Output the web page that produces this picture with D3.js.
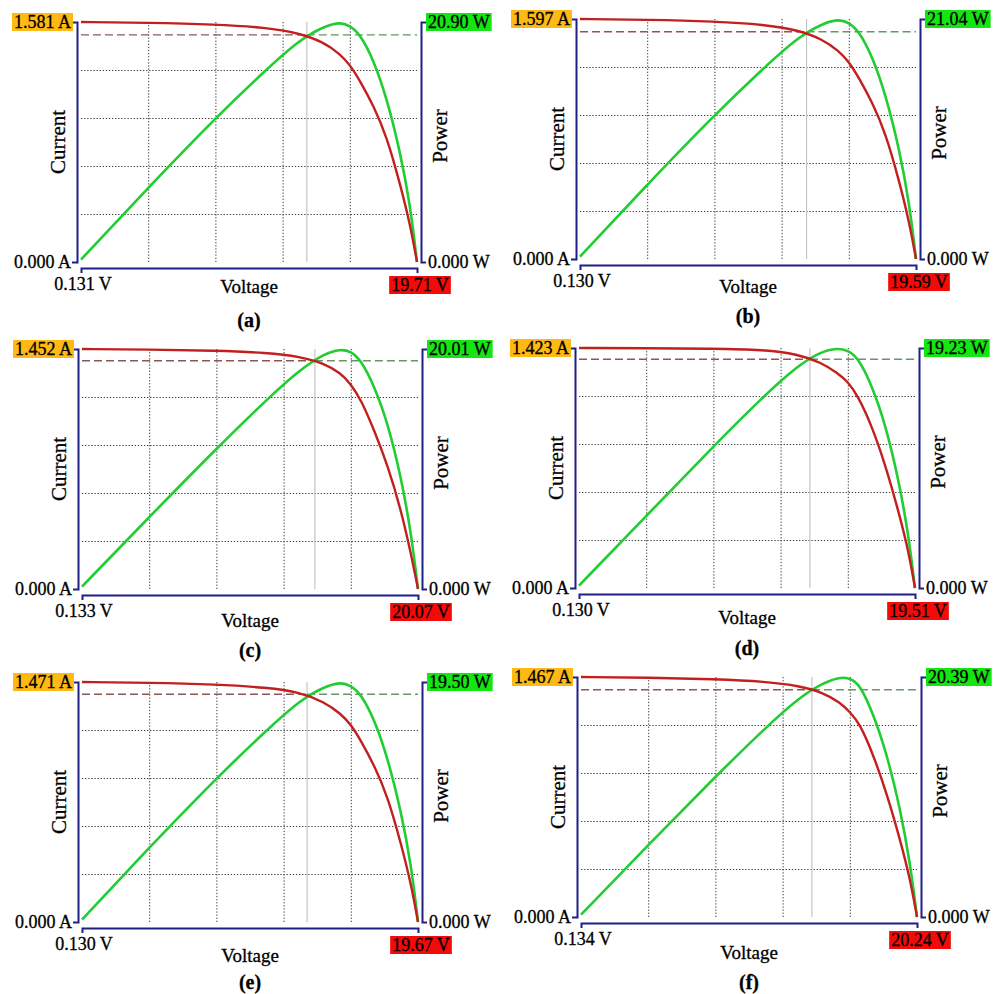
<!DOCTYPE html>
<html>
<head>
<meta charset="utf-8">
<script src="https://cdn.jsdelivr.net/npm/d3@7"></script>
<style>
  body { margin: 0; background: #fff; }
  svg { display: block; font-family: "Liberation Serif", "Times New Roman", serif; }
  svg text { stroke: #000; stroke-width: 0.3px; }
</style>
</head>
<body>
<div id="main"></div>
<script>
const width = 994;
const height = 994;

// chart data
const panelNames = ["(a)", "(b)", "(c)", "(d)", "(e)", "(f)"];
const startVolts = [0.131, 0.130, 0.133, 0.130, 0.130, 0.134];
const openVolts = [19.71, 19.59, 20.07, 19.51, 19.67, 20.24];
const maxAmps = [1.581, 1.597, 1.452, 1.423, 1.471, 1.467];
const maxWatts = [20.90, 21.04, 20.01, 19.23, 19.50, 20.39];
const mppVolts = [13.29, 13.25, 13.95, 13.45, 13.22, 13.95];
const mppAmps = [1.496, 1.512, 1.381, 1.356, 1.396, 1.389];

const volts = [
  [0.131, 4.05, 7.96, 10.90, 12.86, 14.23, 15.21, 15.79, 16.38, 17.17, 17.95, 18.73, 19.32, 19.71],
  [0.130, 4.02, 7.91, 10.83, 12.78, 14.14, 15.11, 15.70, 16.28, 17.06, 17.84, 18.62, 19.20, 19.59],
  [0.133, 4.12, 8.11, 11.10, 13.09, 14.49, 15.48, 16.08, 16.68, 17.48, 18.28, 19.07, 19.67, 20.07],
  [0.130, 4.01, 7.88, 10.79, 12.73, 14.08, 15.05, 15.63, 16.22, 16.99, 17.77, 18.54, 19.12, 19.51],
  [0.130, 4.04, 7.95, 10.88, 12.83, 14.20, 15.18, 15.76, 16.35, 17.13, 17.91, 18.69, 19.28, 19.67],
  [0.134, 4.16, 8.18, 11.19, 13.20, 14.61, 15.62, 16.22, 16.82, 17.63, 18.43, 19.24, 19.84, 20.24],
];
const amps = [
  [1.581, 1.576, 1.565, 1.545, 1.507, 1.450, 1.372, 1.301, 1.195, 1.031, 0.827, 0.512, 0.243, 0],
  [1.597, 1.592, 1.581, 1.560, 1.522, 1.464, 1.386, 1.314, 1.207, 1.041, 0.835, 0.517, 0.246, 0],
  [1.452, 1.449, 1.442, 1.430, 1.406, 1.365, 1.307, 1.241, 1.147, 0.958, 0.745, 0.475, 0.206, 0],
  [1.423, 1.422, 1.419, 1.413, 1.387, 1.338, 1.274, 1.224, 1.138, 0.968, 0.740, 0.462, 0.228, 0],
  [1.471, 1.467, 1.456, 1.437, 1.408, 1.349, 1.277, 1.211, 1.112, 0.959, 0.769, 0.477, 0.227, 0],
  [1.467, 1.463, 1.454, 1.439, 1.413, 1.372, 1.313, 1.254, 1.182, 0.990, 0.755, 0.469, 0.227, 0],
];
const watts = [
  [0.21, 6.48, 12.54, 16.72, 19.33, 20.48, 20.90, 20.59, 19.86, 17.64, 14.27, 9.59, 4.91, 0],
  [0.21, 6.52, 12.62, 16.83, 19.46, 20.62, 21.04, 20.72, 19.99, 17.76, 14.37, 9.66, 4.94, 0],
  [0.20, 6.00, 11.71, 15.81, 18.31, 19.61, 20.01, 19.81, 19.11, 16.91, 13.81, 9.30, 4.60, 0],
  [0.19, 5.77, 11.35, 15.38, 17.79, 18.94, 19.23, 19.04, 18.46, 16.35, 13.27, 8.85, 4.42, 0],
  [0.20, 6.05, 11.70, 15.60, 18.04, 19.11, 19.50, 19.21, 18.53, 16.46, 13.32, 8.95, 4.58, 0],
  [0.20, 6.12, 11.93, 16.11, 18.66, 19.88, 20.39, 20.29, 19.78, 17.23, 13.87, 9.18, 4.49, 0],
];

// layout of the 3x2 grid of panels
const panelLeft = [81, 580, 82, 579, 82, 581];
const panelTop = [22, 19, 349, 348, 682, 677];
const plotW = 336;
const plotH = 240;
const voltageDy = [24, 27, 31, 29, 33, 35];
const captionY = [320, 316, 650, 648, 982, 982];

const axisColor = "#1f1f85";
const currentColor = "#c21f1f";
const powerColor = "#22cc33";

const svg = d3
  .select("#main")
  .append("svg")
  .attr("width", width)
  .attr("height", height);

panelNames.forEach((d, i) => drawPanel(i));

function drawPanel(i) {
  const left = panelLeft[i];
  const top = panelTop[i];
  const v0 = startVolts[i];
  const voc = openVolts[i];

  const x = d3.scaleLinear().domain([v0, voc]).range([left, left + plotW]);
  const yI = d3.scaleLinear().domain([0, maxAmps[i]]).range([top + plotH, top]);
  const yP = d3.scaleLinear().domain([0, maxWatts[i]]).range([top + plotH, top]);

  const g = svg.append("g").attr("class", "panel");

  // dotted grid, 5 divisions each way
  const xGrid = d3.range(1, 5).map((k) => v0 + (k * (voc - v0)) / 5);
  const yGrid = d3.range(1, 5).map((k) => (k * maxAmps[i]) / 5);

  g.append("g")
    .attr("class", "grid")
    .attr("transform", `translate(0,${top + plotH})`)
    .call(d3.axisBottom(x).tickValues(xGrid).tickSize(-plotH).tickFormat(""));
  g.append("g")
    .attr("class", "grid")
    .attr("transform", `translate(${left},0)`)
    .call(d3.axisLeft(yI).tickValues(yGrid).tickSize(-plotW).tickFormat(""));
  g.selectAll(".grid .domain").remove();
  g.selectAll(".grid line")
    .attr("stroke", "#3a3a3a")
    .attr("stroke-width", 1)
    .attr("stroke-dasharray", "1.3,1.8");

  // max power point markers
  const mx = x(mppVolts[i]);
  const my = yI(mppAmps[i]);
  g.append("line")
    .attr("x1", mx).attr("x2", mx)
    .attr("y1", top).attr("y2", top + plotH)
    .attr("stroke", "#c4c4c4")
    .attr("stroke-width", 1.2);
  g.append("line")
    .attr("x1", left).attr("x2", mx)
    .attr("y1", my).attr("y2", my)
    .attr("stroke", "#8e5656")
    .attr("stroke-width", 1.4)
    .attr("stroke-dasharray", "8,4");
  g.append("line")
    .attr("x1", mx).attr("x2", left + plotW)
    .attr("y1", my).attr("y2", my)
    .attr("stroke", "#6a946a")
    .attr("stroke-width", 1.4)
    .attr("stroke-dasharray", "8,4");

  // curves
  const pts = volts[i].map((v, k) => ({ v: v, a: amps[i][k], w: watts[i][k] }));
  g.append("path")
    .datum(pts)
    .attr("fill", "none")
    .attr("stroke", powerColor)
    .attr("stroke-width", 2.6)
    .attr("d", d3.line().curve(d3.curveBasis).x((d) => x(d.v)).y((d) => yP(d.w)));
  g.append("path")
    .datum(pts)
    .attr("fill", "none")
    .attr("stroke", currentColor)
    .attr("stroke-width", 2.4)
    .attr("d", d3.line().curve(d3.curveBasis).x((d) => x(d.v)).y((d) => yI(d.a)));

  // bracket axes
  const axes = [
    g.append("g").attr("transform", `translate(${left - 4},0)`)
      .call(d3.axisLeft(yI).tickValues([]).tickSizeOuter(5)),
    g.append("g").attr("transform", `translate(${left + plotW + 4},0)`)
      .call(d3.axisRight(yP).tickValues([]).tickSizeOuter(5)),
    g.append("g").attr("transform", `translate(0,${top + plotH + 6})`)
      .call(d3.axisBottom(x).tickValues([]).tickSizeOuter(5)),
  ];
  axes.forEach((a) => a.select(".domain").attr("stroke", axisColor).attr("stroke-width", 2));

  // end labels
  label(g, maxAmps[i].toFixed(3) + " A", left - 10, top, "end", "#ffb914");
  label(g, (0).toFixed(3) + " A", left - 10, top + plotH, "end");
  label(g, maxWatts[i].toFixed(2) + " W", left + plotW + 11, top, "start", "#14e614");
  label(g, (0).toFixed(3) + " W", left + plotW + 11, top + plotH, "start");
  label(g, v0.toFixed(3) + " V", left + 2, top + plotH + 22, "middle");
  label(g, voc.toFixed(2) + " V", left + plotW + 3, top + plotH + 23, "middle", "#f50a0a");

  // axis titles
  label(g, "Voltage", left + plotW / 2, top + plotH + voltageDy[i], "middle").attr("font-size", 19);
  g.append("text")
    .attr("transform", `translate(${left - 23},${top + plotH / 2}) rotate(-90)`)
    .attr("dy", "0.35em")
    .attr("text-anchor", "middle")
    .attr("font-size", 21)
    .text("Current");
  g.append("text")
    .attr("transform", `translate(${left + plotW + 23},${top + plotH / 2 - 6}) rotate(-90)`)
    .attr("dy", "0.35em")
    .attr("text-anchor", "middle")
    .attr("font-size", 21)
    .text("Power");

  g.append("text")
    .attr("x", left + plotW / 2)
    .attr("y", captionY[i])
    .attr("dy", "0.35em")
    .attr("text-anchor", "middle")
    .attr("font-size", 20)
    .attr("font-weight", "bold")
    .text(panelNames[i]);
}

function label(g, txt, x, y, anchor, fill) {
  const t = g
    .append("text")
    .attr("x", x)
    .attr("y", y)
    .attr("dy", "0.35em")
    .attr("text-anchor", anchor)
    .attr("font-size", 18)
    .attr("fill", "#000")
    .text(txt);
  if (fill) {
    const b = t.node().getBBox();
    g.insert("rect", () => t.node())
      .attr("x", b.x - 2)
      .attr("y", y - 9)
      .attr("width", b.width + 4)
      .attr("height", 18)
      .attr("fill", fill);
  }
  return t;
}
</script>
</body>
</html>
